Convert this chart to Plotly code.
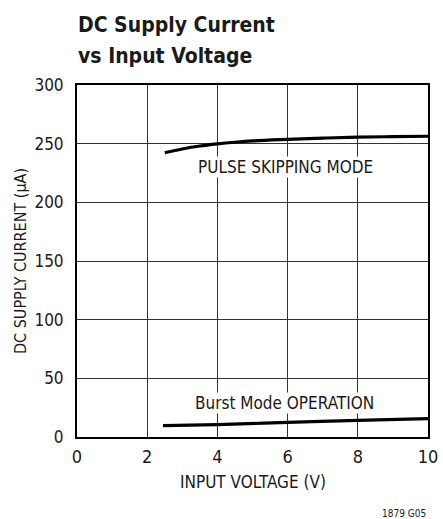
import plotly.graph_objects as go

# Pulse skipping mode
v_psm = [2.5, 3.0, 3.5, 4.0, 4.5, 5.0, 6.0, 7.0, 8.0, 9.0, 10.0]
i_psm = [242.3, 245.5, 248.0, 249.8, 251.2, 252.3, 253.6, 254.7, 255.6, 256.0, 256.3]

# Burst Mode operation
v_burst = [2.45, 4.0, 6.0, 8.0, 10.0]
i_burst = [9.7, 10.6, 12.4, 14.2, 15.7]

x_ticks = [0, 2, 4, 6, 8, 10]
y_ticks = [0, 50, 100, 150, 200, 250, 300]

FONT = "DejaVu Sans Condensed, Liberation Sans Narrow, Arial Narrow, sans-serif"

fig = go.Figure()
fig.add_trace(go.Scatter(x=v_psm, y=i_psm, mode="lines",
                         line=dict(color="black", width=3.2, shape="spline"),
                         showlegend=False, hoverinfo="skip"))
fig.add_trace(go.Scatter(x=v_burst, y=i_burst, mode="lines",
                         line=dict(color="black", width=3.2, shape="spline"),
                         showlegend=False, hoverinfo="skip"))

W, H = 443, 519
fig.update_layout(
    width=W, height=H,
    margin=dict(l=77, r=15, t=85, b=82, autoexpand=False),
    paper_bgcolor="white", plot_bgcolor="white",
    font=dict(family=FONT, color="#1a1a1a", size=17),
    xaxis=dict(range=[0, 10], tickvals=x_ticks, showgrid=True, gridcolor="#333333", gridwidth=1,
               zeroline=False, showline=True, linecolor="black", linewidth=2, mirror=True,
               ticks="", ticklen=0, tickfont=dict(size=18), automargin=False,
               ticklabelstandoff=2),
    yaxis=dict(range=[0, 300], tickvals=y_ticks, showgrid=True, gridcolor="#333333", gridwidth=1,
               zeroline=False, showline=True, linecolor="black", linewidth=2, mirror=True,
               ticks="", ticklen=0, tickfont=dict(size=17), automargin=False,
               ticklabelstandoff=8),
    annotations=[
        dict(text="<b>DC Supply Current</b>", xref="paper", yref="paper",
             x=0, y=1, xanchor="left", yanchor="middle", yshift=60, xshift=-1, showarrow=False,
             font=dict(size=21, family=FONT, color="#1a1a1a")),
        dict(text="<b>vs Input Voltage</b>", xref="paper", yref="paper",
             x=0, y=1, xanchor="left", yanchor="middle", yshift=29, xshift=-1, showarrow=False,
             font=dict(size=21, family=FONT, color="#1a1a1a")),
        dict(text="INPUT VOLTAGE (V)", xref="paper", yref="paper", x=0.5, y=0,
             xanchor="center", yanchor="middle", yshift=-45, showarrow=False,
             font=dict(size=17)),
        dict(text="DC SUPPLY CURRENT (µA)", xref="paper", yref="paper", x=0, y=0.5,
             xanchor="center", yanchor="middle", xshift=-57, textangle=-90, showarrow=False,
             font=dict(size=16)),
        dict(text="PULSE SKIPPING MODE", x=5.95, y=229.8, xref="x", yref="y", showarrow=False,
             font=dict(size=17), bgcolor="white", borderpad=0),
        dict(text="Burst Mode OPERATION", x=5.92, y=28.8, xref="x", yref="y", showarrow=False,
             font=dict(size=17), bgcolor="white", borderpad=0),
        dict(text="1879 G05", xref="paper", yref="paper", x=1, y=0, xanchor="right", yanchor="middle",
             yshift=-76, xshift=0, showarrow=False, font=dict(size=10)),
    ],
)

fig.write_html("out.html", config={"displayModeBar": False},
               post_script="document.body.style.margin='0';document.body.style.overflow='hidden';")
